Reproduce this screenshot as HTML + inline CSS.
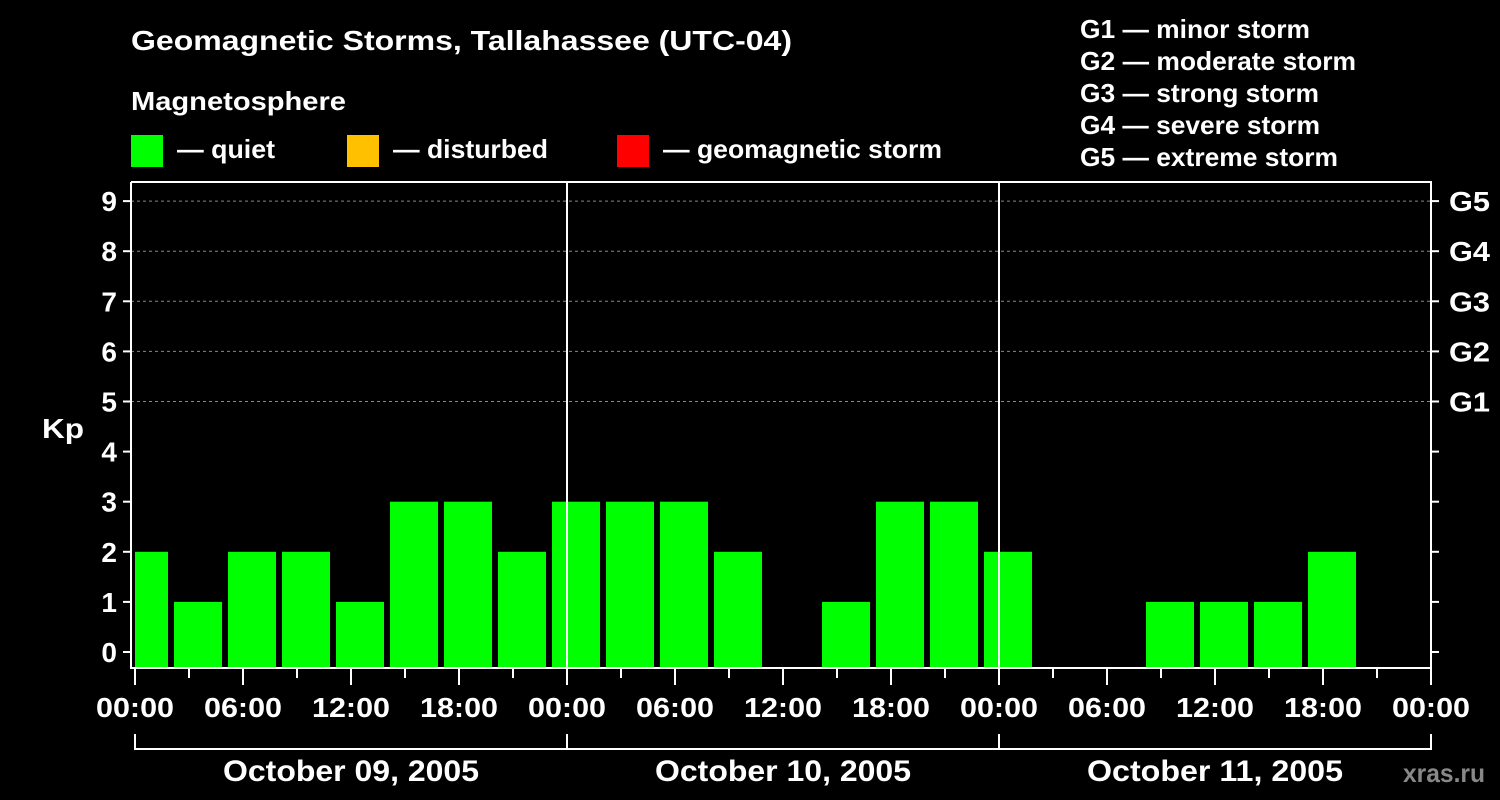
<!DOCTYPE html>
<html><head><meta charset="utf-8"><style>
body{margin:0;background:#000;}
svg{display:block;font-family:"Liberation Sans",Arial,sans-serif;font-weight:bold;}
</style></head><body>
<svg id="c" width="1500" height="800" viewBox="0 0 1500 800">
<rect width="1500" height="800" fill="#000"/>
<text x="131" y="50" fill="#fff" font-size="28" textLength="661" lengthAdjust="spacingAndGlyphs">Geomagnetic Storms, Tallahassee (UTC-04)</text>
<text x="131" y="110" fill="#fff" font-size="26" textLength="215" lengthAdjust="spacingAndGlyphs">Magnetosphere</text>
<g><rect x="131" y="135" width="32" height="32" fill="#00ff00"/><text x="177" y="158" fill="#fff" font-size="26" textLength="98" lengthAdjust="spacingAndGlyphs">— quiet</text></g>
<g><rect x="347" y="135" width="32" height="32" fill="#ffc000"/><text x="393" y="158" fill="#fff" font-size="26" textLength="155" lengthAdjust="spacingAndGlyphs">— disturbed</text></g>
<g><rect x="617" y="135" width="32" height="32" fill="#ff0000"/><text x="663" y="158" fill="#fff" font-size="26" textLength="279" lengthAdjust="spacingAndGlyphs">— geomagnetic storm</text></g>
<g fill="#fff" font-size="26">
<text x="1080" y="38" textLength="230" lengthAdjust="spacingAndGlyphs">G1 — minor storm</text>
<text x="1080" y="70" textLength="276" lengthAdjust="spacingAndGlyphs">G2 — moderate storm</text>
<text x="1080" y="102" textLength="239" lengthAdjust="spacingAndGlyphs">G3 — strong storm</text>
<text x="1080" y="134" textLength="240" lengthAdjust="spacingAndGlyphs">G4 — severe storm</text>
<text x="1080" y="166" textLength="258" lengthAdjust="spacingAndGlyphs">G5 — extreme storm</text>
</g>
<text x="42" y="438" fill="#fff" font-size="28" textLength="42" lengthAdjust="spacingAndGlyphs">Kp</text>
<text x="1403" y="782" fill="#888" font-size="26" textLength="82" lengthAdjust="spacingAndGlyphs">xras.ru</text>
<g id="plot"></g>
</svg>
<script>
const kpValues=[2,1,2,2,1,3,3,2,3,3,3,2,0,1,3,3,2,0,0,1,1,1,2,0,0];
const slotStartHours=-1;
const yTicks=[0,1,2,3,4,5,6,7,8,9];
const gLabels=["G1","G2","G3","G4","G5"];
const gLevels=[5,6,7,8,9];
const timeLabels=["00:00","06:00","12:00","18:00","00:00","06:00","12:00","18:00","00:00","06:00","12:00","18:00","00:00"];
const dayLabels=["October 09, 2005","October 10, 2005","October 11, 2005"];
const L=131,R=1431,T=182,B=668,X0=135,HPX=18;
const x=h=>X0+h*HPX;
const y=v=>652-v*50.1;
const ns="http://www.w3.org/2000/svg";
const g=document.getElementById('plot');
function el(t,a,txt){const e=document.createElementNS(ns,t);for(const k in a)e.setAttribute(k,a[k]);if(txt!=null)e.textContent=txt;g.appendChild(e);return e;}
gLevels.forEach(v=>{const e=el('line',{x1:L,x2:R,y1:y(v),y2:y(v),stroke:'#888','stroke-dasharray':'3,3','stroke-width':1});

});
kpValues.forEach((v,i)=>{if(v<=0)return;
let h0=slotStartHours+i*3,x1=Math.max(x(h0)+3,X0),x2=Math.min(x(h0+3)-3,R);
const c=v>=5?'#ff0000':(v>=4?'#ffc000':'#00ff00');
const e=el('rect',{x:x1,y:y(v),width:x2-x1,height:B-1-y(v),fill:c});

});
const bx=el('path',{d:`M${L},${T}V${B}H${R}V${T}H${L}`,fill:'none',stroke:'#fff','stroke-width':2});


[1,2].forEach(d=>{const e=el('line',{x1:x(24*d),x2:x(24*d),y1:T,y2:B,stroke:'#fff','stroke-width':2});

});
yTicks.forEach(v=>{el('line',{x1:L-8,x2:L,y1:y(v),y2:y(v),stroke:'#fff','stroke-width':2});
el('line',{x1:R,x2:R+8,y1:y(v),y2:y(v),stroke:'#fff','stroke-width':2});
const t=el('text',{x:L-14,y:y(v)+10,fill:'#fff','font-size':28,'text-anchor':'end'},v);

});
gLevels.forEach((v,i)=>{const t=el('text',{x:1449,y:y(v)+10,fill:'#fff','font-size':28,textLength:41,lengthAdjust:'spacingAndGlyphs'},gLabels[i]);

});
for(let h=0;h<=72;h+=3){const maj=h%6===0;el('line',{x1:x(h),x2:x(h),y1:B,y2:maj?685:678,stroke:'#fff','stroke-width':2});}
timeLabels.forEach((s,i)=>{const t=el('text',{x:x(i*6)-39,y:717,fill:'#fff','font-size':28,textLength:78,lengthAdjust:'spacingAndGlyphs'},s);

});
el('path',{d:`M${x(0)},734V749H${x(72)}V734M${x(24)},734V749M${x(48)},734V749`,fill:'none',stroke:'#fff','stroke-width':2});
dayLabels.forEach((s,i)=>{const t=el('text',{x:x(24*i+12)-128,y:781,fill:'#fff','font-size':30,textLength:256,lengthAdjust:'spacingAndGlyphs'},s);

});
</script>
</body></html>
